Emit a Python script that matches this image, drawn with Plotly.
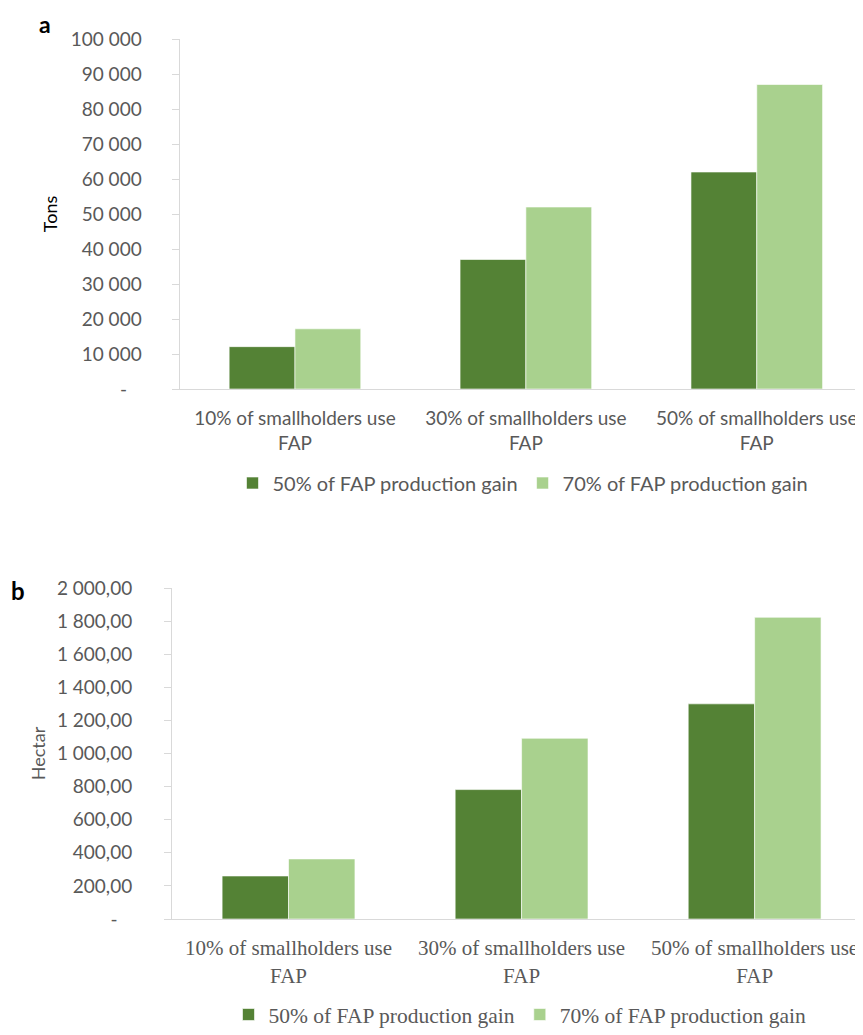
import plotly.graph_objects as go

# Data
categories = ["10% of smallholders use<br>FAP",
              "30% of smallholders use<br>FAP",
              "50% of smallholders use<br>FAP"]
series_names = ["50% of FAP production gain", "70% of FAP production gain"]

tons_50 = [12100, 37000, 62000]
tons_70 = [17200, 52000, 87000]

hectar_50 = [260, 782, 1300]
hectar_70 = [363, 1092, 1823]

tons_ticks = [0, 10000, 20000, 30000, 40000, 50000, 60000, 70000, 80000, 90000, 100000]
tons_ticktext = ["-\u00a0\u00a0\u00a0", "10 000", "20 000", "30 000", "40 000", "50 000",
                 "60 000", "70 000", "80 000", "90 000", "100 000"]
hectar_ticks = [0, 200, 400, 600, 800, 1000, 1200, 1400, 1600, 1800, 2000]
hectar_ticktext = ["-\u00a0\u00a0\u00a0", "200,00", "400,00", "600,00", "800,00", "1 000,00",
                   "1 200,00", "1 400,00", "1 600,00", "1 800,00", "2 000,00"]

colors = ["#548235", "#A9D18E"]
# page body has an 8px margin, so the figure is sized to the visible area
OFF = 8
W, H = 863 - OFF, 1035 - OFF
SANS = "Lato"
SERIF = "Liberation Serif"
GREY = "#595959"
AXIS = "#d9d9d9"


def px(x):
    """screen column -> paper x"""
    return (x - OFF) / W


def py(y):
    """screen row -> paper y"""
    return 1 - (y - OFF) / H


fig = go.Figure()

for name, vals, col in zip(series_names, [tons_50, tons_70], colors):
    fig.add_trace(go.Bar(x=categories, y=vals, name=name, marker_color=col,
                         marker_line=dict(color="rgba(255,255,255,0.6)", width=1),
                         xaxis="x", yaxis="y", legend="legend"))

for name, vals, col in zip(series_names, [hectar_50, hectar_70], colors):
    fig.add_trace(go.Bar(x=categories, y=vals, name=name, marker_color=col,
                         marker_line=dict(color="rgba(255,255,255,0.6)", width=1),
                         xaxis="x2", yaxis="y2", legend="legend2"))

common_x = dict(type="category", showline=True, linecolor=AXIS,
                linewidth=1, ticks="", showgrid=False, zeroline=False, automargin=False)
common_y = dict(showline=True, linecolor=AXIS, linewidth=1, ticks="outside",
                ticklen=7, tickcolor=AXIS, showgrid=False, zeroline=False, automargin=False)

fig.update_layout(
    width=W, height=H,
    margin=dict(l=0, r=0, t=0, b=0, autoexpand=False),
    paper_bgcolor="white", plot_bgcolor="white",
    barmode="group", bargap=0.43, bargroupgap=0,
    xaxis=dict(common_x, domain=[px(179.5), 1], anchor="y", range=[-0.5, 2.46],
               tickfont=dict(family=SANS, size=19, color=GREY), ticklabelstandoff=12),
    yaxis=dict(common_y, domain=[py(389), py(39)], anchor="x", range=[0, 100000],
               tickvals=tons_ticks, ticktext=tons_ticktext,
               tickfont=dict(family=SANS, size=19, color=GREY), ticklabelstandoff=26,
               title=dict(text="Tons", font=dict(family=SANS, size=18, color="black"),
                          standoff=8)),
    xaxis2=dict(common_x, domain=[px(172), 1], anchor="y2", range=[-0.5, 2.465],
                tickfont=dict(family=SERIF, size=21, color=GREY), ticklabelstandoff=10),
    yaxis2=dict(common_y, domain=[py(919), py(588)], anchor="x2", range=[0, 2000],
                tickvals=hectar_ticks, ticktext=hectar_ticktext,
                tickfont=dict(family=SANS, size=19, color=GREY), ticklabelstandoff=28,
                title=dict(text="Hectar", font=dict(family=SANS, size=18, color=GREY),
                           standoff=6)),
    legend=dict(orientation="h", x=px(523), y=py(483), xanchor="center", yanchor="middle",
                font=dict(family=SANS, size=20, color=GREY), itemwidth=30,
                bgcolor="rgba(0,0,0,0)"),
    legend2=dict(orientation="h", x=px(520), y=0, xanchor="center", yanchor="bottom",
                 font=dict(family=SERIF, size=21.5, color=GREY), itemwidth=30,
                 bgcolor="rgba(0,0,0,0)"),
    annotations=[
        dict(text="<b>a</b>", x=px(45), y=1, xref="paper", yref="paper",
             xanchor="center", yanchor="top", showarrow=False,
             font=dict(family=SANS, size=23, color="black")),
        dict(text="<b>b</b>", x=px(18), y=py(590), xref="paper", yref="paper",
             xanchor="center", yanchor="middle", showarrow=False,
             font=dict(family=SANS, size=24, color="black")),
    ],
)

fig.write_html("out.html")
